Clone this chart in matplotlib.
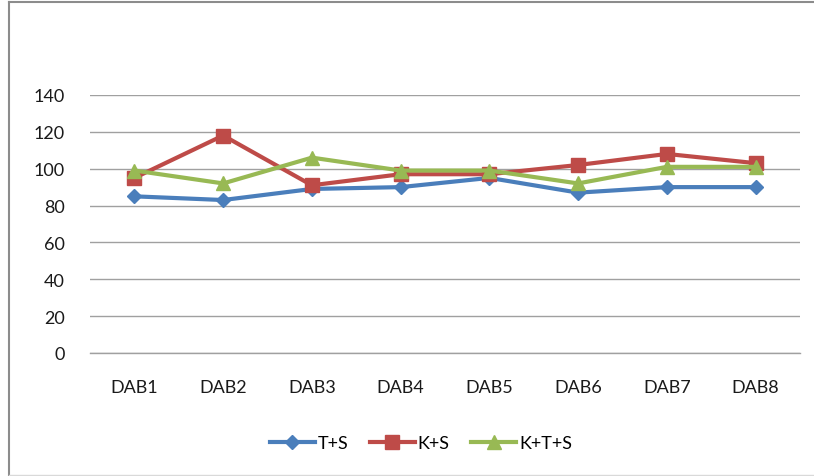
import matplotlib.pyplot as plt
from matplotlib.lines import Line2D

# Dane
categories = ['DAB1', 'DAB2', 'DAB3', 'DAB4', 'DAB5', 'DAB6', 'DAB7', 'DAB8']
t_s = [85, 83, 89, 90, 95, 87, 90, 90]
k_s = [95, 118, 91, 97, 97, 102, 108, 103]
k_t_s = [99, 92, 106, 99, 99, 92, 101, 101]
y_ticks = [0, 20, 40, 60, 80, 100, 120, 140]

plt.rcParams['font.family'] = ['Lato', 'DejaVu Sans']

fig = plt.figure(figsize=(8.14, 4.77), dpi=100)
ax = fig.add_axes([0.1106, 0.2579, 0.8722, 0.5409])

x = range(len(categories))
ax.plot(x, t_s, color='#4a7ebb', marker='D', markersize=7, linewidth=3, label='T+S', zorder=3)
ax.plot(x, k_s, color='#be4b48', marker='s', markersize=10, linewidth=3, label='K+S', zorder=4)
ax.plot(x, k_t_s, color='#98b954', marker='^', markersize=10, linewidth=3, label='K+T+S', zorder=5)

ax.set_xlim(-0.5, len(categories) - 0.5)
ax.set_ylim(0, 140)
ax.set_yticks(y_ticks)
ax.set_xticks(list(x))
ax.set_xticklabels(categories)
ax.grid(axis='y', color='#a0a0a0', linewidth=1)
ax.set_axisbelow(True)
for s in ['left', 'right', 'top']:
    ax.spines[s].set_visible(False)
ax.spines['bottom'].set_color('#a0a0a0')
ax.spines['bottom'].set_linewidth(1)
ax.tick_params(axis='both', length=0, labelsize=13, colors='#1a1a1a')
ax.tick_params(axis='y', pad=18)
ax.tick_params(axis='x', pad=19)

leg = fig.legend(loc='center', bbox_to_anchor=(0.517, 0.069), ncol=3, frameon=False,
                 fontsize=13, handlelength=2.5, columnspacing=1.2, handletextpad=0.15)

# Ramka wykresu
fig.add_artist(Line2D([0.0111, 0.0111], [0.0, 0.994], color='#8c8c8c', linewidth=1.5,
                      transform=fig.transFigure))
fig.add_artist(Line2D([0.0111, 1.0], [0.994, 0.994], color='#8c8c8c', linewidth=1.5,
                      transform=fig.transFigure))
fig.add_artist(Line2D([0.0111, 1.0], [0.002, 0.002], color='#d9d9d9', linewidth=1,
                      transform=fig.transFigure))

plt.savefig('out.png', dpi=100)
